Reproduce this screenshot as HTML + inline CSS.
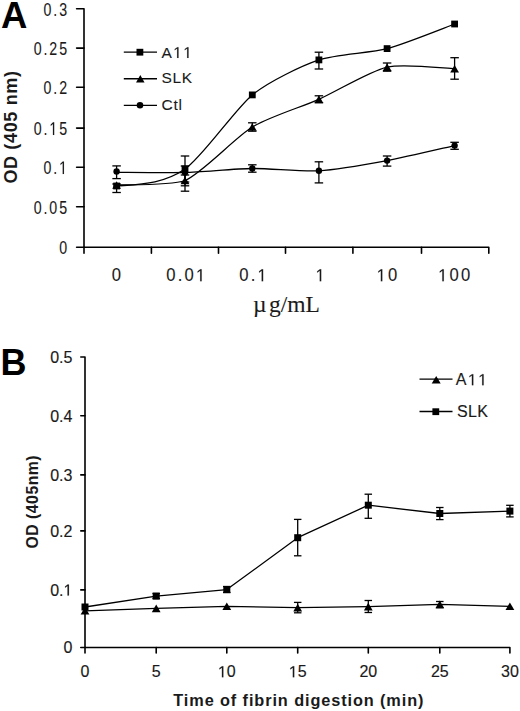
<!DOCTYPE html>
<html><head><meta charset="utf-8"><title>Chart</title>
<style>
html,body{margin:0;padding:0;background:#fff;}
body{width:520px;height:711px;overflow:hidden;font-family:"Liberation Sans", sans-serif;}
svg{display:block;}
</style></head>
<body>
<svg width="520" height="711" viewBox="0 0 520 711">
<rect width="520" height="711" fill="#fff"/>
<path d="M76.6 8.8H84.0V253.2M84.0 247.2H488.8V253.2" fill="none" stroke="#000" stroke-width="1.6" stroke-linejoin="round" stroke-linecap="round"/>
<line x1="76.6" y1="48.1" x2="84" y2="48.1" stroke="#000" stroke-width="1.6" stroke-linecap="round"/>
<line x1="76.6" y1="87.3" x2="84" y2="87.3" stroke="#000" stroke-width="1.6" stroke-linecap="round"/>
<line x1="76.6" y1="128.1" x2="84" y2="128.1" stroke="#000" stroke-width="1.6" stroke-linecap="round"/>
<line x1="76.6" y1="167.3" x2="84" y2="167.3" stroke="#000" stroke-width="1.6" stroke-linecap="round"/>
<line x1="76.6" y1="206.7" x2="84" y2="206.7" stroke="#000" stroke-width="1.6" stroke-linecap="round"/>
<line x1="76.6" y1="247.2" x2="84" y2="247.2" stroke="#000" stroke-width="1.6" stroke-linecap="round"/>
<line x1="151.4" y1="247.2" x2="151.4" y2="253.2" stroke="#000" stroke-width="1.6" stroke-linecap="round"/>
<line x1="218.5" y1="247.2" x2="218.5" y2="253.2" stroke="#000" stroke-width="1.6" stroke-linecap="round"/>
<line x1="285.5" y1="247.2" x2="285.5" y2="253.2" stroke="#000" stroke-width="1.6" stroke-linecap="round"/>
<line x1="352.9" y1="247.2" x2="352.9" y2="253.2" stroke="#000" stroke-width="1.6" stroke-linecap="round"/>
<line x1="421.5" y1="247.2" x2="421.5" y2="253.2" stroke="#000" stroke-width="1.6" stroke-linecap="round"/>
<g transform="translate(68.9 15.6) scale(0.78 1)">
<text font-size="18.2" font-family='"Liberation Sans", sans-serif' font-weight="normal" text-anchor="end" fill="#1a1a1a" letter-spacing="2.4" stroke="#1a1a1a" stroke-width="0.1">0.3</text>
</g>
<g transform="translate(68.9 54.9) scale(0.78 1)">
<text font-size="18.2" font-family='"Liberation Sans", sans-serif' font-weight="normal" text-anchor="end" fill="#1a1a1a" letter-spacing="2.4" stroke="#1a1a1a" stroke-width="0.1">0.25</text>
</g>
<g transform="translate(68.9 94.1) scale(0.78 1)">
<text font-size="18.2" font-family='"Liberation Sans", sans-serif' font-weight="normal" text-anchor="end" fill="#1a1a1a" letter-spacing="2.4" stroke="#1a1a1a" stroke-width="0.1">0.2</text>
</g>
<g transform="translate(68.9 134.9) scale(0.78 1)">
<text font-size="18.2" font-family='"Liberation Sans", sans-serif' font-weight="normal" text-anchor="end" fill="#1a1a1a" letter-spacing="2.4" stroke="#1a1a1a" stroke-width="0.1">0. 5</text>
<path transform="translate(-25.044 0) scale(0.00889 -0.00889)" d="M515 0L515 1237L197 1010L197 1180L530 1409L696 1409L696 0Z" fill="#1a1a1a" stroke="#1a1a1a" stroke-width="11.3"/>
</g>
<g transform="translate(68.9 174.1) scale(0.78 1)">
<text font-size="18.2" font-family='"Liberation Sans", sans-serif' font-weight="normal" text-anchor="end" fill="#1a1a1a" letter-spacing="2.4" stroke="#1a1a1a" stroke-width="0.1">0. </text>
<path transform="translate(-12.522 0) scale(0.00889 -0.00889)" d="M515 0L515 1237L197 1010L197 1180L530 1409L696 1409L696 0Z" fill="#1a1a1a" stroke="#1a1a1a" stroke-width="11.3"/>
</g>
<g transform="translate(68.9 213.5) scale(0.78 1)">
<text font-size="18.2" font-family='"Liberation Sans", sans-serif' font-weight="normal" text-anchor="end" fill="#1a1a1a" letter-spacing="2.4" stroke="#1a1a1a" stroke-width="0.1">0.05</text>
</g>
<g transform="translate(68.9 254) scale(0.78 1)">
<text font-size="18.2" font-family='"Liberation Sans", sans-serif' font-weight="normal" text-anchor="end" fill="#1a1a1a" letter-spacing="2.4" stroke="#1a1a1a" stroke-width="0.1">0</text>
</g>
<g transform="translate(117.49 281.3) scale(0.95 1)">
<text font-size="17.5" font-family='"Liberation Sans", sans-serif' font-weight="normal" text-anchor="middle" fill="#1a1a1a" letter-spacing="2.3" stroke="#1a1a1a" stroke-width="0.1">0</text>
</g>
<g transform="translate(186.89 281.3) scale(0.95 1)">
<text font-size="17.5" font-family='"Liberation Sans", sans-serif' font-weight="normal" text-anchor="middle" fill="#1a1a1a" letter-spacing="2.3" stroke="#1a1a1a" stroke-width="0.1">0.0 </text>
<path transform="translate(9.597 0) scale(0.00854 -0.00854)" d="M515 0L515 1237L197 1010L197 1180L530 1409L696 1409L696 0Z" fill="#1a1a1a" stroke="#1a1a1a" stroke-width="11.7"/>
</g>
<g transform="translate(254.09 281.3) scale(0.95 1)">
<text font-size="17.5" font-family='"Liberation Sans", sans-serif' font-weight="normal" text-anchor="middle" fill="#1a1a1a" letter-spacing="2.3" stroke="#1a1a1a" stroke-width="0.1">0. </text>
<path transform="translate(3.581 0) scale(0.00854 -0.00854)" d="M515 0L515 1237L197 1010L197 1180L530 1409L696 1409L696 0Z" fill="#1a1a1a" stroke="#1a1a1a" stroke-width="11.7"/>
</g>
<g transform="translate(321.29 281.3) scale(0.95 1)">
<text font-size="17.5" font-family='"Liberation Sans", sans-serif' font-weight="normal" text-anchor="middle" fill="#1a1a1a" letter-spacing="2.3" stroke="#1a1a1a" stroke-width="0.1"> </text>
<path transform="translate(-6.016 0) scale(0.00854 -0.00854)" d="M515 0L515 1237L197 1010L197 1180L530 1409L696 1409L696 0Z" fill="#1a1a1a" stroke="#1a1a1a" stroke-width="11.7"/>
</g>
<g transform="translate(388.09 281.3) scale(0.95 1)">
<text font-size="17.5" font-family='"Liberation Sans", sans-serif' font-weight="normal" text-anchor="middle" fill="#1a1a1a" letter-spacing="2.3" stroke="#1a1a1a" stroke-width="0.1"> 0</text>
<path transform="translate(-12.033 0) scale(0.00854 -0.00854)" d="M515 0L515 1237L197 1010L197 1180L530 1409L696 1409L696 0Z" fill="#1a1a1a" stroke="#1a1a1a" stroke-width="11.7"/>
</g>
<g transform="translate(455.29 281.3) scale(0.95 1)">
<text font-size="17.5" font-family='"Liberation Sans", sans-serif' font-weight="normal" text-anchor="middle" fill="#1a1a1a" letter-spacing="2.3" stroke="#1a1a1a" stroke-width="0.1"> 00</text>
<path transform="translate(-18.049 0) scale(0.00854 -0.00854)" d="M515 0L515 1237L197 1010L197 1180L530 1409L696 1409L696 0Z" fill="#1a1a1a" stroke="#1a1a1a" stroke-width="11.7"/>
</g>
<g transform="translate(253 312.3) scale(1.0 1)">
<text font-size="23.5" font-family='"Liberation Serif", serif' font-weight="normal" text-anchor="start" fill="#1a1a1a" stroke="#1a1a1a" stroke-width="0.1">µ</text>
</g>
<g transform="translate(269 312.3) scale(1.0 1)">
<text font-size="23.5" font-family='"Liberation Serif", serif' font-weight="normal" text-anchor="start" fill="#1a1a1a" stroke="#1a1a1a" stroke-width="0.1">g/mL</text>
</g>
<text transform="translate(16.6 127) rotate(-90)" x="0" y="0" font-size="18" font-family='"Liberation Sans", sans-serif' font-weight="bold" text-anchor="middle" fill="#1a1a1a" letter-spacing="0.65">OD (405 nm)</text>
<g transform="translate(0.9 27.6) scale(1.0 1)">
<text font-size="36.5" font-family='"Liberation Sans", sans-serif' font-weight="bold" text-anchor="start" fill="#000">A</text>
</g>
<line x1="123.8" y1="52.2" x2="157" y2="52.2" stroke="#000" stroke-width="1.3"/>
<rect x="136.5" y="48.8" width="6.8" height="6.8" fill="#000"/>
<g transform="translate(161.5 57.9) scale(1.0 1)">
<text font-size="15.5" font-family='"Liberation Sans", sans-serif' font-weight="normal" text-anchor="start" fill="#1a1a1a" letter-spacing="1.4" stroke="#1a1a1a" stroke-width="0.1">A  </text>
<path transform="translate(11.738 0) scale(0.00757 -0.00757)" d="M515 0L515 1237L197 1010L197 1180L530 1409L696 1409L696 0Z" fill="#1a1a1a" stroke="#1a1a1a" stroke-width="13.2"/>
<path transform="translate(21.759 0) scale(0.00757 -0.00757)" d="M515 0L515 1237L197 1010L197 1180L530 1409L696 1409L696 0Z" fill="#1a1a1a" stroke="#1a1a1a" stroke-width="13.2"/>
</g>
<line x1="123.8" y1="78.75" x2="157" y2="78.75" stroke="#000" stroke-width="1.3"/>
<path d="M140.3 75L144.55 82.5L136.05 82.5Z" fill="#000"/>
<g transform="translate(161.5 83.3) scale(1.0 1)">
<text font-size="15.5" font-family='"Liberation Sans", sans-serif' font-weight="normal" text-anchor="start" fill="#1a1a1a" letter-spacing="0.7" stroke="#1a1a1a" stroke-width="0.1">SLK</text>
</g>
<line x1="123.8" y1="105.3" x2="157" y2="105.3" stroke="#000" stroke-width="1.3"/>
<circle cx="140" cy="105.3" r="3.3" fill="#000"/>
<g transform="translate(161.5 109.9) scale(1.0 1)">
<text font-size="15.5" font-family='"Liberation Sans", sans-serif' font-weight="normal" text-anchor="start" fill="#1a1a1a" letter-spacing="0.7" stroke="#1a1a1a" stroke-width="0.1">Ctl</text>
</g>
<path d="M116.6 172.3C125.15 172.33 168.04 172.97 185 172.5C201.96 172.03 235.56 168.71 252.3 168.5C269.04 168.29 302.05 171.79 318.9 170.8C335.75 169.81 370.14 163.75 387.1 160.6C404.06 157.45 446.16 147.47 454.6 145.6" fill="none" stroke="#000" stroke-width="1.3" stroke-linejoin="round"/>
<path d="M116.6 185C140 184.6 172 185.3 185 180.5C201.96 173.25 235.56 137.15 252.3 127C269.04 116.85 302.05 106.79 318.9 99.3C335.75 91.81 370.14 70.91 387.1 67.1C404.06 63.29 446.16 68.59 454.6 68.8" fill="none" stroke="#000" stroke-width="1.3" stroke-linejoin="round"/>
<path d="M116.6 186C140 184.2 163 184.2 185 169C201.96 157.61 235.56 108.54 252.3 94.9C269.04 81.26 302.05 65.69 318.9 59.9C335.75 54.11 370.14 53.09 387.1 48.6C404.06 44.11 446.16 27.07 454.6 24" fill="none" stroke="#000" stroke-width="1.3" stroke-linejoin="round"/>
<line x1="116.6" y1="165.9" x2="116.6" y2="178.6" stroke="#000" stroke-width="1.3"/>
<line x1="112.35" y1="165.9" x2="120.85" y2="165.9" stroke="#000" stroke-width="1.3"/>
<line x1="112.35" y1="178.6" x2="120.85" y2="178.6" stroke="#000" stroke-width="1.3"/>
<line x1="185" y1="166" x2="185" y2="185.8" stroke="#000" stroke-width="1.3"/>
<line x1="180.75" y1="166" x2="189.25" y2="166" stroke="#000" stroke-width="1.3"/>
<line x1="180.75" y1="185.8" x2="189.25" y2="185.8" stroke="#000" stroke-width="1.3"/>
<line x1="252.3" y1="164.8" x2="252.3" y2="172.2" stroke="#000" stroke-width="1.3"/>
<line x1="248.05" y1="164.8" x2="256.55" y2="164.8" stroke="#000" stroke-width="1.3"/>
<line x1="248.05" y1="172.2" x2="256.55" y2="172.2" stroke="#000" stroke-width="1.3"/>
<line x1="318.9" y1="161.8" x2="318.9" y2="182.9" stroke="#000" stroke-width="1.3"/>
<line x1="314.65" y1="161.8" x2="323.15" y2="161.8" stroke="#000" stroke-width="1.3"/>
<line x1="314.65" y1="182.9" x2="323.15" y2="182.9" stroke="#000" stroke-width="1.3"/>
<line x1="387.1" y1="156" x2="387.1" y2="166.1" stroke="#000" stroke-width="1.3"/>
<line x1="382.85" y1="156" x2="391.35" y2="156" stroke="#000" stroke-width="1.3"/>
<line x1="382.85" y1="166.1" x2="391.35" y2="166.1" stroke="#000" stroke-width="1.3"/>
<line x1="454.6" y1="142.3" x2="454.6" y2="149.3" stroke="#000" stroke-width="1.3"/>
<line x1="450.35" y1="142.3" x2="458.85" y2="142.3" stroke="#000" stroke-width="1.3"/>
<line x1="450.35" y1="149.3" x2="458.85" y2="149.3" stroke="#000" stroke-width="1.3"/>
<line x1="185" y1="175" x2="185" y2="191.2" stroke="#000" stroke-width="1.3"/>
<line x1="180.75" y1="175" x2="189.25" y2="175" stroke="#000" stroke-width="1.3"/>
<line x1="180.75" y1="191.2" x2="189.25" y2="191.2" stroke="#000" stroke-width="1.3"/>
<line x1="252.3" y1="122.8" x2="252.3" y2="131.2" stroke="#000" stroke-width="1.3"/>
<line x1="248.05" y1="122.8" x2="256.55" y2="122.8" stroke="#000" stroke-width="1.3"/>
<line x1="248.05" y1="131.2" x2="256.55" y2="131.2" stroke="#000" stroke-width="1.3"/>
<line x1="318.9" y1="95.8" x2="318.9" y2="102.8" stroke="#000" stroke-width="1.3"/>
<line x1="314.65" y1="95.8" x2="323.15" y2="95.8" stroke="#000" stroke-width="1.3"/>
<line x1="314.65" y1="102.8" x2="323.15" y2="102.8" stroke="#000" stroke-width="1.3"/>
<line x1="387.1" y1="63" x2="387.1" y2="71.2" stroke="#000" stroke-width="1.3"/>
<line x1="382.85" y1="63" x2="391.35" y2="63" stroke="#000" stroke-width="1.3"/>
<line x1="382.85" y1="71.2" x2="391.35" y2="71.2" stroke="#000" stroke-width="1.3"/>
<line x1="454.6" y1="57.7" x2="454.6" y2="79.2" stroke="#000" stroke-width="1.3"/>
<line x1="450.35" y1="57.7" x2="458.85" y2="57.7" stroke="#000" stroke-width="1.3"/>
<line x1="450.35" y1="79.2" x2="458.85" y2="79.2" stroke="#000" stroke-width="1.3"/>
<line x1="116.6" y1="184" x2="116.6" y2="192.5" stroke="#000" stroke-width="1.3"/>
<line x1="112.35" y1="184" x2="120.85" y2="184" stroke="#000" stroke-width="1.3"/>
<line x1="112.35" y1="192.5" x2="120.85" y2="192.5" stroke="#000" stroke-width="1.3"/>
<line x1="185" y1="156" x2="185" y2="182" stroke="#000" stroke-width="1.3"/>
<line x1="180.75" y1="156" x2="189.25" y2="156" stroke="#000" stroke-width="1.3"/>
<line x1="180.75" y1="182" x2="189.25" y2="182" stroke="#000" stroke-width="1.3"/>
<line x1="318.9" y1="52.2" x2="318.9" y2="69" stroke="#000" stroke-width="1.3"/>
<line x1="314.65" y1="52.2" x2="323.15" y2="52.2" stroke="#000" stroke-width="1.3"/>
<line x1="314.65" y1="69" x2="323.15" y2="69" stroke="#000" stroke-width="1.3"/>
<circle cx="116.6" cy="171.5" r="3.2" fill="#000"/>
<circle cx="185" cy="172.5" r="3.2" fill="#000"/>
<circle cx="252.3" cy="168.5" r="3.2" fill="#000"/>
<circle cx="318.9" cy="170.8" r="3.2" fill="#000"/>
<circle cx="387.1" cy="160.6" r="3.2" fill="#000"/>
<circle cx="454.6" cy="145.6" r="3.2" fill="#000"/>
<path d="M116.6 181.2L121 188.8L112.2 188.8Z" fill="#000"/>
<path d="M185 176.7L189.4 184.3L180.6 184.3Z" fill="#000"/>
<path d="M252.3 123.2L256.7 130.8L247.9 130.8Z" fill="#000"/>
<path d="M318.9 95.5L323.3 103.1L314.5 103.1Z" fill="#000"/>
<path d="M387.1 63.3L391.5 70.9L382.7 70.9Z" fill="#000"/>
<path d="M454.6 65L459 72.6L450.2 72.6Z" fill="#000"/>
<rect x="113.2" y="182.6" width="6.8" height="6.8" fill="#000"/>
<rect x="181.6" y="165.6" width="6.8" height="6.8" fill="#000"/>
<rect x="248.9" y="91.5" width="6.8" height="6.8" fill="#000"/>
<rect x="315.5" y="56.5" width="6.8" height="6.8" fill="#000"/>
<rect x="383.7" y="45.2" width="6.8" height="6.8" fill="#000"/>
<rect x="451.2" y="20.6" width="6.8" height="6.8" fill="#000"/>
<path d="M80.8 357.0H85.0V653M85.0 647.5H509.9V653" fill="none" stroke="#000" stroke-width="1.6" stroke-linejoin="round" stroke-linecap="round"/>
<line x1="80.8" y1="415.8" x2="85" y2="415.8" stroke="#000" stroke-width="1.6" stroke-linecap="round"/>
<line x1="80.8" y1="474.9" x2="85" y2="474.9" stroke="#000" stroke-width="1.6" stroke-linecap="round"/>
<line x1="80.8" y1="530.9" x2="85" y2="530.9" stroke="#000" stroke-width="1.6" stroke-linecap="round"/>
<line x1="80.8" y1="589.9" x2="85" y2="589.9" stroke="#000" stroke-width="1.6" stroke-linecap="round"/>
<line x1="80.8" y1="647.5" x2="85" y2="647.5" stroke="#000" stroke-width="1.6" stroke-linecap="round"/>
<line x1="156.2" y1="647.5" x2="156.2" y2="653" stroke="#000" stroke-width="1.6" stroke-linecap="round"/>
<line x1="226.8" y1="647.5" x2="226.8" y2="653" stroke="#000" stroke-width="1.6" stroke-linecap="round"/>
<line x1="297.7" y1="647.5" x2="297.7" y2="653" stroke="#000" stroke-width="1.6" stroke-linecap="round"/>
<line x1="368.3" y1="647.5" x2="368.3" y2="653" stroke="#000" stroke-width="1.6" stroke-linecap="round"/>
<line x1="439.8" y1="647.5" x2="439.8" y2="653" stroke="#000" stroke-width="1.6" stroke-linecap="round"/>
<g transform="translate(72.4 362.7) scale(1.0 1)">
<text font-size="16" font-family='"Liberation Sans", sans-serif' font-weight="normal" text-anchor="end" fill="#1a1a1a" stroke="#1a1a1a" stroke-width="0.15">0.5</text>
</g>
<g transform="translate(72.4 421.5) scale(1.0 1)">
<text font-size="16" font-family='"Liberation Sans", sans-serif' font-weight="normal" text-anchor="end" fill="#1a1a1a" stroke="#1a1a1a" stroke-width="0.15">0.4</text>
</g>
<g transform="translate(72.4 480.6) scale(1.0 1)">
<text font-size="16" font-family='"Liberation Sans", sans-serif' font-weight="normal" text-anchor="end" fill="#1a1a1a" stroke="#1a1a1a" stroke-width="0.15">0.3</text>
</g>
<g transform="translate(72.4 536.6) scale(1.0 1)">
<text font-size="16" font-family='"Liberation Sans", sans-serif' font-weight="normal" text-anchor="end" fill="#1a1a1a" stroke="#1a1a1a" stroke-width="0.15">0.2</text>
</g>
<g transform="translate(72.4 595.6) scale(1.0 1)">
<text font-size="16" font-family='"Liberation Sans", sans-serif' font-weight="normal" text-anchor="end" fill="#1a1a1a" stroke="#1a1a1a" stroke-width="0.15">0. </text>
<path transform="translate(-8.898 0) scale(0.00781 -0.00781)" d="M515 0L515 1237L197 1010L197 1180L530 1409L696 1409L696 0Z" fill="#1a1a1a" stroke="#1a1a1a" stroke-width="19.2"/>
</g>
<g transform="translate(72.4 653.2) scale(1.0 1)">
<text font-size="16" font-family='"Liberation Sans", sans-serif' font-weight="normal" text-anchor="end" fill="#1a1a1a" stroke="#1a1a1a" stroke-width="0.15">0</text>
</g>
<g transform="translate(85 677.3) scale(1.0 1)">
<text font-size="16" font-family='"Liberation Sans", sans-serif' font-weight="normal" text-anchor="middle" fill="#1a1a1a" stroke="#1a1a1a" stroke-width="0.15">0</text>
</g>
<g transform="translate(156.2 677.3) scale(1.0 1)">
<text font-size="16" font-family='"Liberation Sans", sans-serif' font-weight="normal" text-anchor="middle" fill="#1a1a1a" stroke="#1a1a1a" stroke-width="0.15">5</text>
</g>
<g transform="translate(226.8 677.3) scale(1.0 1)">
<text font-size="16" font-family='"Liberation Sans", sans-serif' font-weight="normal" text-anchor="middle" fill="#1a1a1a" stroke="#1a1a1a" stroke-width="0.15"> 0</text>
<path transform="translate(-8.898 0) scale(0.00781 -0.00781)" d="M515 0L515 1237L197 1010L197 1180L530 1409L696 1409L696 0Z" fill="#1a1a1a" stroke="#1a1a1a" stroke-width="19.2"/>
</g>
<g transform="translate(297.7 677.3) scale(1.0 1)">
<text font-size="16" font-family='"Liberation Sans", sans-serif' font-weight="normal" text-anchor="middle" fill="#1a1a1a" stroke="#1a1a1a" stroke-width="0.15"> 5</text>
<path transform="translate(-8.898 0) scale(0.00781 -0.00781)" d="M515 0L515 1237L197 1010L197 1180L530 1409L696 1409L696 0Z" fill="#1a1a1a" stroke="#1a1a1a" stroke-width="19.2"/>
</g>
<g transform="translate(368.3 677.3) scale(1.0 1)">
<text font-size="16" font-family='"Liberation Sans", sans-serif' font-weight="normal" text-anchor="middle" fill="#1a1a1a" stroke="#1a1a1a" stroke-width="0.15">20</text>
</g>
<g transform="translate(439.8 677.3) scale(1.0 1)">
<text font-size="16" font-family='"Liberation Sans", sans-serif' font-weight="normal" text-anchor="middle" fill="#1a1a1a" stroke="#1a1a1a" stroke-width="0.15">25</text>
</g>
<g transform="translate(509.9 677.3) scale(1.0 1)">
<text font-size="16" font-family='"Liberation Sans", sans-serif' font-weight="normal" text-anchor="middle" fill="#1a1a1a" stroke="#1a1a1a" stroke-width="0.15">30</text>
</g>
<g transform="translate(173.3 705.6) scale(1.0 1)">
<text font-size="16.3" font-family='"Liberation Sans", sans-serif' font-weight="bold" text-anchor="start" fill="#1a1a1a" letter-spacing="0.9">Time of fibrin digestion (min)</text>
</g>
<text transform="translate(38 501.7) rotate(-90)" x="0" y="0" font-size="15.8" font-family='"Liberation Sans", sans-serif' font-weight="bold" text-anchor="middle" fill="#1a1a1a" letter-spacing="0.5">OD (405nm)</text>
<g transform="translate(0.4 374.6) scale(1.0 1)">
<text font-size="36" font-family='"Liberation Sans", sans-serif' font-weight="bold" text-anchor="start" fill="#000">B</text>
</g>
<line x1="419.5" y1="379.2" x2="452.5" y2="379.2" stroke="#000" stroke-width="1.3"/>
<path d="M436.2 376.05L440.7 383.55L431.7 383.55Z" fill="#000"/>
<g transform="translate(455.8 385.2) scale(1.0 1)">
<text font-size="16" font-family='"Liberation Sans", sans-serif' font-weight="normal" text-anchor="start" fill="#1a1a1a" letter-spacing="1.4" stroke="#1a1a1a" stroke-width="0.15">A  </text>
<path transform="translate(12.072 0) scale(0.00781 -0.00781)" d="M515 0L515 1237L197 1010L197 1180L530 1409L696 1409L696 0Z" fill="#1a1a1a" stroke="#1a1a1a" stroke-width="19.2"/>
<path transform="translate(22.370 0) scale(0.00781 -0.00781)" d="M515 0L515 1237L197 1010L197 1180L530 1409L696 1409L696 0Z" fill="#1a1a1a" stroke="#1a1a1a" stroke-width="19.2"/>
</g>
<line x1="419.5" y1="411.5" x2="452.5" y2="411.5" stroke="#000" stroke-width="1.3"/>
<rect x="432.4" y="408.3" width="6.8" height="6.8" fill="#000"/>
<g transform="translate(457 417.4) scale(1.0 1)">
<text font-size="16" font-family='"Liberation Sans", sans-serif' font-weight="normal" text-anchor="start" fill="#1a1a1a" letter-spacing="0.3" stroke="#1a1a1a" stroke-width="0.15">SLK</text>
</g>
<path d="M85 610.8L156.2 608.4L226.8 606.3L297.7 607.6L368.3 606.6L439.8 604.4L509.9 606.3" fill="none" stroke="#000" stroke-width="1.3" stroke-linejoin="round"/>
<path d="M85 607L156.2 596.1L226.8 589.6L297.7 537.7L368.3 505.2L439.8 513.5L509.9 511.1" fill="none" stroke="#000" stroke-width="1.3" stroke-linejoin="round"/>
<line x1="156.2" y1="593.5" x2="156.2" y2="598.5" stroke="#000" stroke-width="1.3"/>
<line x1="152.45" y1="593.5" x2="159.95" y2="593.5" stroke="#000" stroke-width="1.3"/>
<line x1="152.45" y1="598.5" x2="159.95" y2="598.5" stroke="#000" stroke-width="1.3"/>
<line x1="226.8" y1="586.5" x2="226.8" y2="592.5" stroke="#000" stroke-width="1.3"/>
<line x1="223.05" y1="586.5" x2="230.55" y2="586.5" stroke="#000" stroke-width="1.3"/>
<line x1="223.05" y1="592.5" x2="230.55" y2="592.5" stroke="#000" stroke-width="1.3"/>
<line x1="297.7" y1="519.4" x2="297.7" y2="555.8" stroke="#000" stroke-width="1.3"/>
<line x1="293.95" y1="519.4" x2="301.45" y2="519.4" stroke="#000" stroke-width="1.3"/>
<line x1="293.95" y1="555.8" x2="301.45" y2="555.8" stroke="#000" stroke-width="1.3"/>
<line x1="297.7" y1="602.4" x2="297.7" y2="612.8" stroke="#000" stroke-width="1.3"/>
<line x1="293.95" y1="602.4" x2="301.45" y2="602.4" stroke="#000" stroke-width="1.3"/>
<line x1="293.95" y1="612.8" x2="301.45" y2="612.8" stroke="#000" stroke-width="1.3"/>
<line x1="368.3" y1="494.2" x2="368.3" y2="518.3" stroke="#000" stroke-width="1.3"/>
<line x1="364.55" y1="494.2" x2="372.05" y2="494.2" stroke="#000" stroke-width="1.3"/>
<line x1="364.55" y1="518.3" x2="372.05" y2="518.3" stroke="#000" stroke-width="1.3"/>
<line x1="368.3" y1="600.5" x2="368.3" y2="612.5" stroke="#000" stroke-width="1.3"/>
<line x1="364.55" y1="600.5" x2="372.05" y2="600.5" stroke="#000" stroke-width="1.3"/>
<line x1="364.55" y1="612.5" x2="372.05" y2="612.5" stroke="#000" stroke-width="1.3"/>
<line x1="439.8" y1="507.5" x2="439.8" y2="519.6" stroke="#000" stroke-width="1.3"/>
<line x1="436.05" y1="507.5" x2="443.55" y2="507.5" stroke="#000" stroke-width="1.3"/>
<line x1="436.05" y1="519.6" x2="443.55" y2="519.6" stroke="#000" stroke-width="1.3"/>
<line x1="439.8" y1="601.5" x2="439.8" y2="607.7" stroke="#000" stroke-width="1.3"/>
<line x1="436.05" y1="601.5" x2="443.55" y2="601.5" stroke="#000" stroke-width="1.3"/>
<line x1="436.05" y1="607.7" x2="443.55" y2="607.7" stroke="#000" stroke-width="1.3"/>
<line x1="509.9" y1="505.3" x2="509.9" y2="516.9" stroke="#000" stroke-width="1.3"/>
<line x1="506.15" y1="505.3" x2="513.65" y2="505.3" stroke="#000" stroke-width="1.3"/>
<line x1="506.15" y1="516.9" x2="513.65" y2="516.9" stroke="#000" stroke-width="1.3"/>
<path d="M85 607L89.4 614.6L80.6 614.6Z" fill="#000"/>
<path d="M156.2 604.6L160.6 612.2L151.8 612.2Z" fill="#000"/>
<path d="M226.8 602.5L231.2 610.1L222.4 610.1Z" fill="#000"/>
<path d="M297.7 603.8L302.1 611.4L293.3 611.4Z" fill="#000"/>
<path d="M368.3 602.8L372.7 610.4L363.9 610.4Z" fill="#000"/>
<path d="M439.8 600.6L444.2 608.2L435.4 608.2Z" fill="#000"/>
<path d="M509.9 602.5L514.3 610.1L505.5 610.1Z" fill="#000"/>
<rect x="81.5" y="603.5" width="7" height="7" fill="#000"/>
<rect x="152.7" y="592.6" width="7" height="7" fill="#000"/>
<rect x="223.3" y="586.1" width="7" height="7" fill="#000"/>
<rect x="294.2" y="534.2" width="7" height="7" fill="#000"/>
<rect x="364.8" y="501.7" width="7" height="7" fill="#000"/>
<rect x="436.3" y="510" width="7" height="7" fill="#000"/>
<rect x="506.4" y="507.6" width="7" height="7" fill="#000"/>
</svg>
</body></html>
